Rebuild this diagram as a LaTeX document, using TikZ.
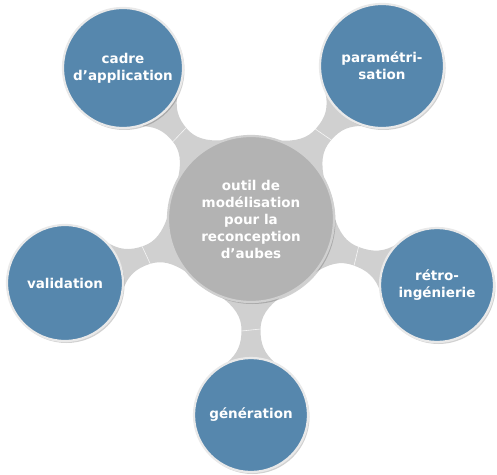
\documentclass[tikz,border=0pt]{standalone}
\usepackage{fontspec}
\setmainfont{DejaVu Sans}
\usetikzlibrary{calc}
\definecolor{bluefill}{HTML}{5687AD}
\definecolor{grayfill}{HTML}{B3B3B3}
\definecolor{neckcol}{HTML}{D0D0D0}
\definecolor{ringcol}{HTML}{E9E9E9}
\tikzset{
  bubble/.style={circle, inner sep=0pt, fill=bluefill, draw=ringcol, line width=2.2pt,
    text=white, align=center, font=\fontsize{13.5}{17}\selectfont\bfseries,
    preaction={fill=black, opacity=0.18, transform canvas={xshift=1.5pt,yshift=-2pt}}},
  hub/.style={bubble, fill=grayfill, draw=neckcol},
  neck/.style={fill=neckcol},
  neckline/.style={draw=white, line width=0.6pt, opacity=0.8}
}
\newcommand\neckshape[3]{%
  \begin{scope}[shift={(C.center)}, rotate=#1]
    \fill[neck] (77,31) .. controls (88,16) and (98,9.5) .. ({(83+#2-#3)/2},9.5)
      .. controls ({#2-#3-14},9.5) and ({#2-#3-4},13) .. ({#2-#3*cos(27)},{#3*sin(27)})
      -- ({#2-#3*cos(27)},{-#3*sin(27)})
      .. controls ({#2-#3-4},-13) and ({#2-#3-14},-9.5) .. ({(83+#2-#3)/2},-9.5)
      .. controls (98,-9.5) and (88,-16) .. (77,-31) -- cycle;
    \draw[neckline] ({(83+#2-#3)/2-1},9.5) -- ({(83+#2-#3)/2+1},-9.5);
  \end{scope}}
\begin{document}
\begin{tikzpicture}[x=1pt,y=1pt]
\useasboundingbox (0,0) rectangle (497,474);
\coordinate (C) at (251,255);
\neckshape{130.3}{198.0}{60}
\neckshape{49.4}{201.4}{62}
\neckshape{-19.5}{197.4}{57}
\neckshape{-90}{196}{57}
\neckshape{199.0}{196.7}{58}
\node[hub, minimum size=166pt] (hub) at (C) {outil de\\modélisation\\pour la\\reconception\\d’aubes};
\node[bubble, minimum size=120pt] (A) at (123,406) {cadre\\d’application};
\node[bubble, minimum size=124pt] (P) at (382,408) {paramétri-\\sation};
\node[bubble, minimum size=114pt] (R) at (437,189) {rétro-\\ingénierie};
\node[bubble, minimum size=114pt] (G) at (251,59) {génération};
\node[bubble, minimum size=116pt] (V) at (65,191) {validation};
\end{tikzpicture}
\end{document}
